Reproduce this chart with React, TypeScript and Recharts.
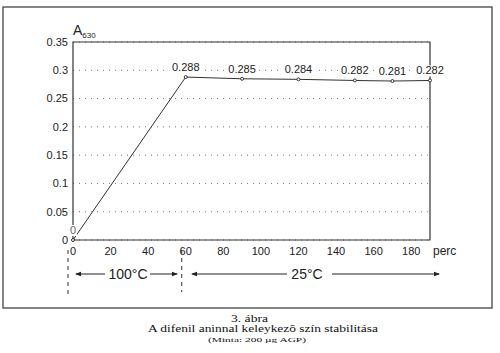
import { LineChart, Line, XAxis, YAxis, CartesianGrid, ReferenceArea, LabelList } from 'recharts';

const minutes = [0, 60, 90, 120, 150, 170, 190];
const absorbance = [0, 0.288, 0.285, 0.284, 0.282, 0.281, 0.282];
const xTicks = [0, 20, 40, 60, 80, 100, 120, 140, 160, 180];
const yTicks = [0, 0.05, 0.1, 0.15, 0.2, 0.25, 0.3, 0.35];

const data = minutes.map((m, i) => ({ t: m, a: absorbance[i] }));

const SANS = '"Liberation Sans", Arial, sans-serif';
const SERIF = '"Liberation Serif", "Times New Roman", serif';

// plot box, used for the annotations under the axis
const PLOT_LEFT = 73;
const PLOT_RIGHT = 430;
const X_MAX = 190;
const xPos = (v: number) => PLOT_LEFT + (v / X_MAX) * (PLOT_RIGHT - PLOT_LEFT);

const ValueLabel = (props: any) => {
  const { x, y, value } = props;
  const txt = value === 0 ? '0' : value.toFixed(3);
  const w = txt.length * 6.2;
  return (
    <g>
      <rect x={x - w / 2 - 1} y={y - 15} width={w + 2} height={11} fill="#fff" />
      <text x={x} y={y - 6} textAnchor="middle" fontSize={11} fontFamily={SANS} fill={value === 0 ? '#666' : '#222'}>
        {txt}
      </text>
    </g>
  );
};

export default function App() {
  return (
    <div style={{ position: 'absolute', left: 0, top: 0, width: 500, height: 353, background: '#fff' }}>
      <LineChart width={500} height={353} data={data} margin={{ top: 42, right: 70, bottom: 83, left: 0 }}>
        <CartesianGrid vertical={false} stroke="#777" strokeDasharray="1 5" />
        <XAxis
          dataKey="t"
          type="number"
          domain={[0, X_MAX]}
          ticks={xTicks}
          axisLine={false}
          tickLine={false}
          tickSize={0}
          tickMargin={7}
          height={30}
          tick={{ fontSize: 11, fill: '#222', fontFamily: SANS }}
        />
        <YAxis
          type="number"
          domain={[0, 0.35]}
          ticks={yTicks}
          axisLine={false}
          tickLine={false}
          tickSize={0}
          tickMargin={5}
          width={73}
          tick={{ fontSize: 11, fill: '#222', fontFamily: SANS }}
        />
        <ReferenceArea x1={0} x2={X_MAX} y1={0} y2={0.35} fill="none" stroke="#333" strokeWidth={1.2} ifOverflow="visible" />
        <Line
          dataKey="a"
          stroke="#333"
          strokeWidth={1}
          dot={{ r: 1.5, stroke: '#333', strokeWidth: 1, fill: '#fff' }}
          isAnimationActive={false}
        >
          <LabelList dataKey="a" content={<ValueLabel />} />
        </Line>
      </LineChart>
      <svg width={500} height={353} style={{ position: 'absolute', left: 0, top: 0, pointerEvents: 'none' }}>
        <defs>
          <marker id="ah" markerWidth="6" markerHeight="6" refX="5" refY="3" orient="auto">
            <path d="M0,0.8 L6,3 L0,5.2 z" fill="#222" />
          </marker>
        </defs>
        <rect x={3} y={7} width={489} height={301} fill="none" stroke="#444" strokeWidth={1.3} />
        <text x={73} y={35} fontFamily={SANS} fontSize={14} fill="#222">
          A<tspan fontSize={8} dy={3}>630</tspan>
        </text>
        <text x={433} y={255} fontFamily={SANS} fontSize={12} fill="#222">perc</text>
        <line x1={xPos(0) - 5} y1={250} x2={xPos(0) - 5} y2={298} stroke="#333" strokeDasharray="4 4" />
        <line x1={xPos(60) - 4} y1={250} x2={xPos(60) - 4} y2={292} stroke="#333" strokeDasharray="4 4" />
        <line x1={105} y1={274} x2={76} y2={274} stroke="#222" markerEnd="url(#ah)" />
        <text x={128} y={279} textAnchor="middle" fontFamily={SANS} fontSize={14} fill="#222">100°C</text>
        <line x1={150} y1={274} x2={177} y2={274} stroke="#222" markerEnd="url(#ah)" />
        <line x1={287} y1={274} x2={192} y2={274} stroke="#222" markerEnd="url(#ah)" />
        <text x={307} y={279} textAnchor="middle" fontFamily={SANS} fontSize={14} fill="#222">25°C</text>
        <line x1={332} y1={274} x2={439} y2={274} stroke="#222" markerEnd="url(#ah)" />
        <text x={231} y={321.5} fontFamily={SERIF} fontSize={9.5} fill="#111" textLength={37} lengthAdjust="spacingAndGlyphs">3. ábra</text>
        <text x={148} y={332} fontFamily={SERIF} fontSize={10} fill="#111" textLength={230} lengthAdjust="spacingAndGlyphs">A difenil aninnal keleykezõ szín stabilitása</text>
        <text x={208} y={341.5} fontFamily={SERIF} fontSize={7} fill="#111" textLength={98} lengthAdjust="spacingAndGlyphs">(Minta: 200 µg AGP)</text>
      </svg>
    </div>
  );
}
